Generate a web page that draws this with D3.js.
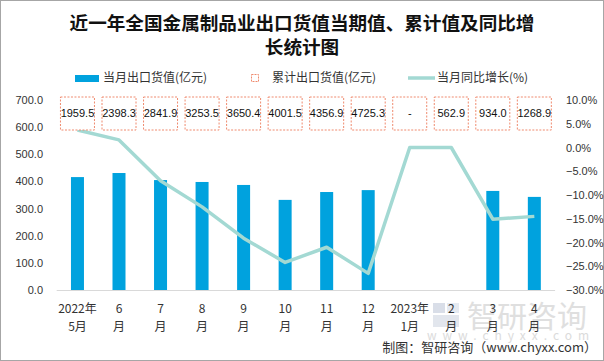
<!DOCTYPE html>
<html><head><meta charset="utf-8">
<script src="https://cdn.jsdelivr.net/npm/d3@7"></script>
<style>
html,body{margin:0;padding:0;background:#fff;}
svg{display:block;font-family:"Liberation Sans","Noto Sans CJK SC",Arial,sans-serif;}
</style></head>
<body>
<script>
const categories = [["2022年","5月"],["6","月"],["7","月"],["8","月"],["9","月"],["10","月"],["11","月"],["12","月"],["2023年","1月"],["2","月"],["3","月"],["4","月"]];
const monthlyValues = [416, 431, 405, 398, 387, 332, 361, 368, null, null, 365, 343];
const cumulativeLabels = ["1959.5","2398.3","2841.9","3253.5","3650.4","4001.5","4356.9","4725.3","-","562.9","934.0","1268.9"];
const yoyGrowth = [3.7, 1.6, -7.0, -12.5, -19.1, -24.2, -21.0, -26.5, 0, 0, -15.1, -14.5];
const leftTicks = [0,100,200,300,400,500,600,700];
const rightTicks = [-30,-25,-20,-15,-10,-5,0,5,10];
const seriesNames = ["当月出口货值(亿元)","累计出口货值(亿元)","当月同比增长(%)"];

const W = 604, H = 361;
const svg = d3.select("body").append("svg").attr("width", W).attr("height", H);
svg.append("rect").attr("x",0.5).attr("y",0.5).attr("width",W-1).attr("height",H-1)
  .attr("fill","#fff").attr("stroke","#a6a6a6");

const cjk = '"Noto Sans CJK SC","Liberation Sans",sans-serif';
// title
const title = svg.append("text").attr("x",302).attr("text-anchor","middle")
  .attr("font-family",cjk).attr("font-weight","bold").attr("font-size",18.6).attr("fill","#111");
title.append("tspan").attr("x",302).attr("y",30).text("近一年全国金属制品业出口货值当期值、累计值及同比增");
title.append("tspan").attr("x",302).attr("y",54).text("长统计图");

const x = d3.scaleBand().domain(d3.range(categories.length)).range([56.7,555.1]).paddingInner(0).paddingOuter(0);
const yL = d3.scaleLinear().domain([0,700]).range([290,100]);
const yR = d3.scaleLinear().domain([-30,10]).range([290,100]);

// watermark
const wm = svg.append("g").attr("opacity",0.9);
wm.append("rect").attr("x",433).attr("y",303).attr("width",12).attr("height",10).attr("fill","#d5dbe6");
wm.append("rect").attr("x",447).attr("y",303).attr("width",12).attr("height",10).attr("fill","#e3e8f0");
wm.append("rect").attr("x",433).attr("y",315).attr("width",26).attr("height",12).attr("fill","#dfe4ec");
wm.append("text").attr("x",527).attr("y",327).attr("text-anchor","middle").attr("font-family",cjk)
  .attr("font-size",30).attr("fill","#dcdcdc").text("智研咨询");
wm.append("text").attr("x",511).attr("y",340).attr("text-anchor","middle").attr("font-family",cjk)
  .attr("font-size",12).attr("letter-spacing",6).attr("fill","#d8d8d8").text("www.chyxx.com");

// axis baseline
svg.append("line").attr("x1",56.7).attr("x2",555.1).attr("y1",290.5).attr("y2",290.5).attr("stroke","#d9d9d9");

// left axis
const axL = svg.append("g").attr("transform","translate(43,0)")
  .call(d3.axisLeft(yL).tickValues(leftTicks).tickFormat(d3.format(".1f")).tickSize(0).tickPadding(0));
axL.select(".domain").remove();
axL.selectAll("text").attr("font-size",11).attr("fill","#333").attr("font-family","Liberation Sans, Arial");

// right axis
const axR = svg.append("g").attr("transform","translate(566,0)")
  .call(d3.axisRight(yR).tickValues(rightTicks).tickFormat(d => d3.format(".1f")(d)+"%").tickSize(0).tickPadding(0));
axR.select(".domain").remove();
axR.selectAll("text").attr("font-size",11).attr("fill","#333").attr("font-family","Liberation Sans, Arial");

// bars
const bw = 13;
svg.append("g").selectAll("rect").data(monthlyValues.map((v,i)=>({v,i})).filter(d=>d.v!=null))
  .join("rect")
  .attr("x",d=>x(d.i)+x.bandwidth()/2-bw/2).attr("width",bw)
  .attr("y",d=>yL(d.v)).attr("height",d=>yL(0)-yL(d.v))
  .attr("fill","#00a2de");

// line
const line = d3.line().x((d,i)=>x(i)+x.bandwidth()/2).y(d=>yR(d));
svg.append("path").datum(yoyGrowth).attr("d",line).attr("fill","none")
  .attr("stroke","#a3d9d3").attr("stroke-width",3.5).attr("stroke-linejoin","round");

// cumulative label boxes
const bx = svg.append("g").selectAll("g").data(cumulativeLabels).join("g")
  .attr("transform",(d,i)=>`translate(${x(i)+x.bandwidth()/2},113)`);
bx.append("rect").attr("x",-17).attr("y",-16).attr("width",34).attr("height",33)
  .attr("fill","#fff").attr("stroke","#ef8a6e").attr("stroke-width",1).attr("stroke-dasharray","2,1.5");
bx.append("text").attr("text-anchor","middle").attr("dy","0.36em").attr("font-size",11)
  .attr("fill","#111").attr("font-family","Liberation Sans, Arial").text(d=>d);

// category labels
const cl = svg.append("g").selectAll("text").data(categories).join("text")
  .attr("text-anchor","middle").attr("font-size",12).attr("fill","#333").attr("font-family",cjk);
cl.append("tspan").attr("x",(d,i)=>x(i)+x.bandwidth()/2).attr("y",313).text(d=>d[0]);
cl.append("tspan").attr("x",(d,i)=>x(i)+x.bandwidth()/2).attr("y",331).text(d=>d[1]);

// legend
const lg = svg.append("g").attr("font-family",cjk).attr("font-size",12).attr("fill","#333");
lg.append("rect").attr("x",75).attr("y",75).attr("width",24).attr("height",7).attr("fill","#00a2de");
lg.append("text").attr("x",103).attr("y",82).text(seriesNames[0]);
lg.append("rect").attr("x",251.5).attr("y",74.5).attr("width",7).attr("height",7).attr("fill","#fff")
  .attr("stroke","#ef8a6e").attr("stroke-dasharray","2,1");
lg.append("text").attr("x",272).attr("y",82).text(seriesNames[1]);
lg.append("line").attr("x1",408).attr("x2",435).attr("y1",78).attr("y2",78).attr("stroke","#a3d9d3").attr("stroke-width",3.5);
lg.append("text").attr("x",437).attr("y",82).text(seriesNames[2]);

// footer
svg.append("text").attr("x",597).attr("y",352).attr("text-anchor","end").attr("font-family",cjk)
  .attr("font-size",13).attr("fill","#333").text("制图：智研咨询（www.chyxx.com）");
</script>
</body></html>
